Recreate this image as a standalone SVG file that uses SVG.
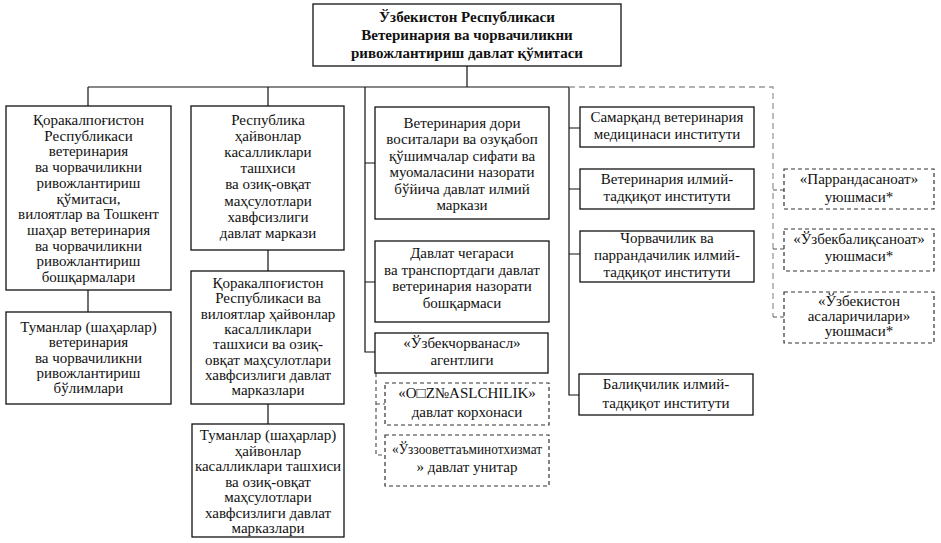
<svg xmlns="http://www.w3.org/2000/svg" width="941" height="543" viewBox="0 0 941 543">
<style>
.box{fill:#fff;stroke:#111;stroke-width:1.3}
.dbox{fill:#fff;stroke:#333;stroke-width:1.2;stroke-dasharray:4 3}
.ln{fill:none;stroke:#111;stroke-width:1.2}
.dl{fill:none;stroke:#555;stroke-width:1.2;stroke-dasharray:4 3}
.gl{fill:none;stroke:#999;stroke-width:1.3;stroke-dasharray:6 4}
text{font-family:"Liberation Serif","Times New Roman",serif;font-size:15px;fill:#111;text-anchor:middle}
.b{font-weight:bold}
</style>
<rect width="941" height="543" fill="#fff"/>
<g id="connectors">
<path class="ln" d="M467 66V87M88 87H569M88 87V106M88 290V312M268 87V106M268 250V271M268 404V424M365 87V352H375M365 163H375M365 282H375M569 87V395H579M569 128H580M569 189H580M569 254H580"/>
<path class="gl" d="M569 87H773V317"/>
<path class="dl" d="M773 190H784M773 249H784M773 317H784M376 373V455H385M376 404H385"/>
</g>
<g id="n-top">
<rect class="box" x="313" y="4" width="308" height="62"/>
<text class="b" x="467" y="22">Ўзбекистон Республикаси</text>
<text class="b" x="467" y="40">Ветеринария ва чорвачиликни</text>
<text class="b" x="467" y="58">ривожлантириш давлат қўмитаси</text>
</g>
<g id="n-l1">
<rect class="box" x="6" y="106" width="165" height="184"/>
<text x="88.5" y="125">Қоракалпоғистон</text>
<text x="88.5" y="140.7">Республикаси</text>
<text x="88.5" y="156.4">ветеринария</text>
<text x="88.5" y="172.1">ва чорвачиликни</text>
<text x="88.5" y="187.8">ривожлантириш</text>
<text x="88.5" y="203.5">қўмитаси,</text>
<text x="88.5" y="219.2">вилоятлар ва Тошкент</text>
<text x="88.5" y="234.9">шаҳар ветеринария</text>
<text x="88.5" y="250.6">ва чорвачиликни</text>
<text x="88.5" y="266.3">ривожлантириш</text>
<text x="88.5" y="282">бошқармалари</text>
</g>
<g id="n-l2">
<rect class="box" x="6" y="312" width="165" height="92"/>
<text x="88.5" y="332">Туманлар (шаҳарлар)</text>
<text x="88.5" y="347.3">ветеринария</text>
<text x="88.5" y="362.5">ва чорвачиликни</text>
<text x="88.5" y="377.8">ривожлантириш</text>
<text x="88.5" y="393">бўлимлари</text>
</g>
<g id="n-c2a">
<rect class="box" x="191" y="106" width="153" height="144"/>
<text x="268" y="125">Республика</text>
<text x="268" y="141.1">ҳайвонлар</text>
<text x="268" y="157.2">касалликлари</text>
<text x="268" y="173.3">ташхиси</text>
<text x="268" y="189.4">ва озиқ-овқат</text>
<text x="268" y="205.5">маҳсулотлари</text>
<text x="268" y="221.6">хавфсизлиги</text>
<text x="268" y="237.7">давлат маркази</text>
</g>
<g id="n-c2b">
<rect class="box" x="191" y="271" width="153" height="133"/>
<text x="268" y="288">Қоракалпоғистон</text>
<text x="268" y="303.3">Республикаси ва</text>
<text x="268" y="318.6">вилоятлар ҳайвонлар</text>
<text x="268" y="333.9">касалликлари</text>
<text x="268" y="349.2">ташхиси ва озиқ-</text>
<text x="268" y="364.5">овқат маҳсулотлари</text>
<text x="268" y="379.8">хавфсизлиги давлат</text>
<text x="268" y="395.1">марказлари</text>
</g>
<g id="n-c2c">
<rect class="box" x="192" y="424" width="152" height="113"/>
<text x="268" y="440">Туманлар (шаҳарлар)</text>
<text x="268" y="455.5">ҳайвонлар</text>
<text x="268" y="471">касалликлари ташхиси</text>
<text x="268" y="486.5">ва озиқ-овқат</text>
<text x="268" y="502">маҳсулотлари</text>
<text x="268" y="517.5">хавфсизлиги давлат</text>
<text x="268" y="533">марказлари</text>
</g>
<g id="n-c3a">
<rect class="box" x="375" y="107" width="174" height="112"/>
<text x="462" y="128">Ветеринария дори</text>
<text x="462" y="144.4">воситалари ва озуқабоп</text>
<text x="462" y="160.8">қўшимчалар сифати ва</text>
<text x="462" y="177.2">муомаласини назорати</text>
<text x="462" y="193.6">бўйича давлат илмий</text>
<text x="462" y="210">маркази</text>
</g>
<g id="n-c3b">
<rect class="box" x="375" y="241" width="174" height="81"/>
<text x="462" y="258">Давлат чегараси</text>
<text x="462" y="274.7">ва транспортдаги давлат</text>
<text x="462" y="291.4">ветеринария назорати</text>
<text x="462" y="308">бошқармаси</text>
</g>
<g id="n-c3c">
<rect class="box" x="375" y="333" width="173" height="40"/>
<text x="462" y="348">«Ўзбекчорванасл»</text>
<text x="462" y="365">агентлиги</text>
</g>
<g id="n-c3d">
<rect class="dbox" x="385" y="383" width="164" height="42"/>
<text x="467" y="398">«O□Z№ASLCHILIK»</text>
<text x="467" y="417">давлат корхонаси</text>
</g>
<g id="n-c3e">
<rect class="dbox" x="385" y="435" width="164" height="51"/>
<text x="467" y="454" textLength="150" lengthAdjust="spacingAndGlyphs">«Ўззооветтаъминотхизмат</text>
<text x="467" y="472">» давлат унитар</text>
</g>
<g id="n-c4a">
<rect class="box" x="580" y="107" width="174" height="40"/>
<text x="667" y="122">Самарқанд ветеринария</text>
<text x="667" y="139">медицинаси институти</text>
</g>
<g id="n-c4b">
<rect class="box" x="580" y="169" width="174" height="40"/>
<text x="667" y="184">Ветеринария илмий-</text>
<text x="667" y="201">тадқиқот институти</text>
</g>
<g id="n-c4c">
<rect class="box" x="580" y="231" width="174" height="51"/>
<text x="667" y="243">Чорвачилик ва</text>
<text x="667" y="260">паррандачилик илмий-</text>
<text x="667" y="277">тадқиқот институти</text>
</g>
<g id="n-c4d">
<rect class="box" x="579" y="374" width="174" height="41"/>
<text x="666" y="389">Балиқчилик илмий-</text>
<text x="666" y="408">тадқиқот институти</text>
</g>
<g id="n-r1">
<rect class="dbox" x="784" y="169" width="150" height="40"/>
<text x="859" y="184">«Паррандасаноат»</text>
<text x="859" y="202">уюшмаси*</text>
</g>
<g id="n-r2">
<rect class="dbox" x="784" y="229" width="150" height="42"/>
<text x="859" y="244">«Ўзбекбалиқсаноат»</text>
<text x="859" y="261">уюшмаси*</text>
</g>
<g id="n-r3">
<rect class="dbox" x="784" y="292" width="150" height="51"/>
<text x="859" y="306">«Ўзбекистон</text>
<text x="859" y="321">асаларичилари»</text>
<text x="859" y="336">уюшмаси*</text>
</g>
</svg>
